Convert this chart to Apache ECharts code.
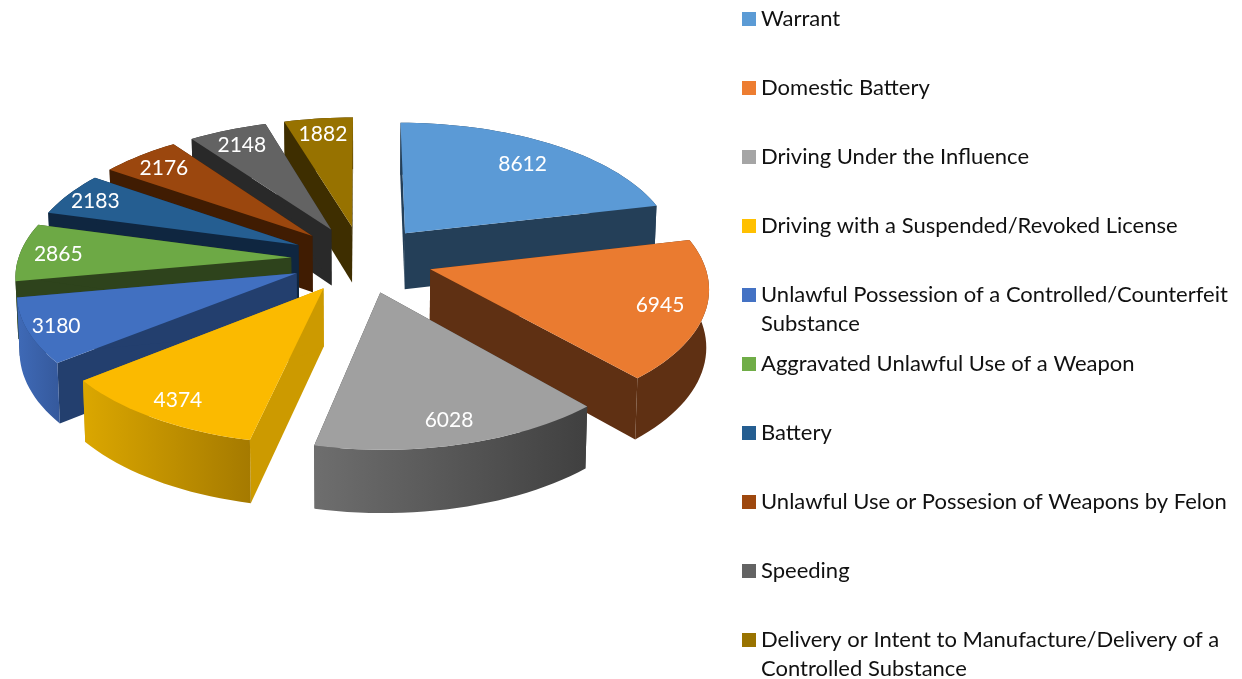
<!DOCTYPE html>
<html><head><meta charset="utf-8">
<style>html,body{margin:0;padding:0;background:#fff}#c{width:1242px;height:679px}</style>
<script src="https://cdn.jsdelivr.net/npm/echarts@6/dist/echarts.min.js"></script>
</head><body><div id="c"></div>
<script>
const categories = ['Warrant','Domestic Battery','Driving Under the Influence','Driving with a Suspended/Revoked License','Unlawful Possession of a Controlled/Counterfeit Substance','Aggravated Unlawful Use of a Weapon','Battery','Unlawful Use or Possesion of Weapons by Felon','Speeding','Delivery or Intent to Manufacture/Delivery of a Controlled Substance'];
const values = [8612,6945,6028,4374,3180,2865,2183,2176,2148,1882];
const secondLines = {4:'Substance',9:'Controlled Substance'};

const legendColors = ['#5B9BD5','#ED7D31','#A5A5A5','#FFC000','#4472C4','#70AD47','#255E91','#9E480E','#636363','#997300'];
const topColors = ['#5B9AD6','#EA7B30','#A0A0A0','#FBBA00','#4170C1','#6DA945','#255E91','#9B470E','#636363','#977200'];
const cutColors = ['#243F58','#5F3013','#404040','#CC9A00','#233F6E','#2E431C','#0F2640','#401C02','#292929','#3E2E00'];
const rimLeft  = ['#243F58','#5F3013','#6E6E6E','#DBA700','#3F6AB7','#2E431C','#0F2640','#401C02','#292929','#3E2E00'];
const rimRight = ['#243F58','#5F3013','#404040','#A57A00','#35599C','#2E431C','#0F2640','#401C02','#292929','#3E2E00'];
const labelRadius = [.78,.84,.85,.87,.90,.86,.88,.85,.85,.85];

const CX=362, CY=259, A=273, B=129.5, P=.12, EXPLODE=.26, DEPTH=57, Q=.08, SHRINK=.992;
const FONT='Lato';
const total = values.reduce((a,b)=>a+b,0);
let acc=0;
const slices = values.map(v=>{const s=acc/total*Math.PI*2; acc+=v; return {s,e:acc/total*Math.PI*2,m:(s+acc/total*Math.PI*2)/2};});
function proj(U,V,bottom){
  const d=1-P*V; let x=A*U/d, y=B*V/d;
  if(bottom){x*=SHRINK; y+=DEPTH/(1-Q*V);}
  return [CX+x,CY+y];
}
function renderSlice(i){
  return function(params,api){
    const sl=slices[i];
    const ou=EXPLODE*Math.sin(sl.m), ov=-EXPLODE*Math.cos(sl.m);
    const n=Math.max(4,Math.ceil((sl.e-sl.s)/(Math.PI/90)));
    const arc=[];
    for(let k=0;k<=n;k++){const t=sl.s+(sl.e-sl.s)*k/n; arc.push([ou+Math.sin(t),ov-Math.cos(t)]);}
    const top=arc.map(p=>proj(p[0],p[1],false));
    const bot=arc.map(p=>proj(p[0],p[1],true));
    const apexT=proj(ou,ov,false), apexB=proj(ou,ov,true);
    const poly=(pts,fill)=>({type:'polygon',silent:true,shape:{points:pts},style:{fill:fill}});
    const grad={type:'linear',x:0,y:0,x2:1,y2:0,colorStops:[{offset:0,color:rimLeft[i]},{offset:1,color:rimRight[i]}]};
    const lab=proj(ou+labelRadius[i]*Math.sin(sl.m),ov-labelRadius[i]*Math.cos(sl.m),false);
    return {type:'group',children:[
      poly([apexT,top[0],bot[0],apexB],cutColors[i]),
      poly([apexT,top[n],bot[n],apexB],cutColors[i]),
      poly(top.concat(bot.slice().reverse()),grad),
      poly([apexT].concat(top),topColors[i]),
      {type:'text',silent:true,style:{text:String(api.value(0)),x:lab[0],y:lab[1]+1,fill:'#fff',font:'21px '+FONT,align:'center',verticalAlign:'middle'}}
    ]};
  };
}
const order = values.map((_,i)=>i).sort((a,b)=>Math.cos(slices[b].m)-Math.cos(slices[a].m));
const series = categories.map((name,i)=>({
  type:'custom',name:name,coordinateSystem:'none',animation:false,silent:true,
  z:2+order.indexOf(i),itemStyle:{color:legendColors[i]},
  data:[[values[i]]],renderItem:renderSlice(i)
}));
const legend = categories.map((name,i)=>{
  const tail=secondLines[i];
  const center=19+69*i;
  return {
    data:[{name:name,icon:'rect'}],orient:'vertical',left:742,top:center-(tail?43.5:14.5),padding:0,
    itemWidth:14,itemHeight:14,selectedMode:false,
    formatter:n=>tail?'\n'+n.slice(0,n.length-tail.length-1)+'\n'+tail:n,
    textStyle:{fontFamily:FONT,fontSize:22,color:'#111',lineHeight:29}
  };
});
const chart=echarts.init(document.getElementById('c'),null,{renderer:'canvas'});
chart.setOption({animation:false,backgroundColor:'#fff',tooltip:{show:false},legend:legend,series:series});
</script></body></html>
